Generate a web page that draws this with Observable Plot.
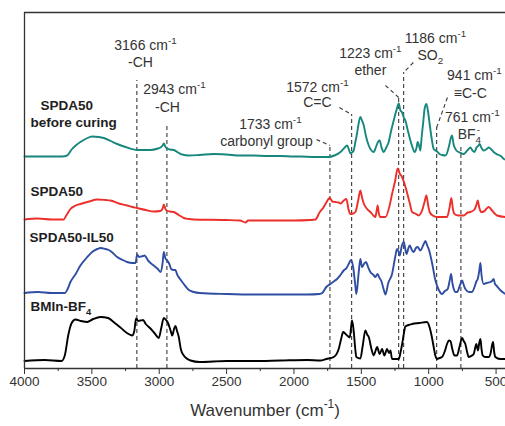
<!DOCTYPE html>
<html><head><meta charset="utf-8">
<script src="https://cdn.jsdelivr.net/npm/d3@7"></script>
<script src="https://cdn.jsdelivr.net/npm/@observablehq/plot@0.6"></script>
<style>
html,body{margin:0;padding:0;background:#fff;overflow:hidden;}
#chart svg{display:block;overflow:hidden;}
</style></head><body><div id="chart"></div>
<script>
// ---- axis ----
const xTicks = [4000, 3500, 3000, 2500, 2000, 1500, 1000, 500];
const xMinorTicks = [3750, 3250, 2750, 2250, 1750, 1250, 750];
const xLabel = "Wavenumber (cm^{-1})";

// ---- series (stacked spectra, arbitrary absorbance units) ----
const seriesNames = ["SPDA50 before curing", "SPDA50", "SPDA50-IL50", "BMIn-BF4"];
const seriesColors = ["#17877d", "#ec2f2a", "#2f4ea3", "#000000"];
const seriesOffsets = [212, 149, 75.5, 7.5];

const tealSpectrum = [[4000,0],[3850,0],[3720,0],[3683,1],[3650,7],[3620,11],[3585,14.5],[3540,18],[3498,20],[3450,19.5],[3412,18.5],[3360,15.5],[3312,12.5],[3250,9.5],[3164,6.5],[3100,6.5],[3065,6.5],[3010,8],[2991,9],[2975,11],[2966,13],[2955,10],[2946,8.5],[2920,7],[2892,6.5],[2860,4],[2830,2],[2780,1],[2700,1.5],[2597,2.5],[2500,2],[2400,1],[2300,1],[2200,0.5],[2100,0.5],[2000,0],[1952,0],[1850,-0.5],[1744,-0.5],[1700,1],[1655,4.5],[1630,8],[1605,11],[1590,6],[1581,3],[1570,4],[1557,6],[1545,14],[1532,23],[1520,33],[1507,39.5],[1495,36],[1482,31],[1465,20],[1445,11],[1425,6],[1408,4.5],[1390,10],[1375,15],[1364,16],[1350,9],[1334,4.5],[1315,9],[1297,14.5],[1280,25],[1260,36],[1240,46],[1222,53],[1210,46],[1197,44],[1185,39],[1173,36],[1155,26],[1136,16],[1120,9],[1104,4.5],[1090,9],[1082,14.5],[1070,10],[1062,6],[1052,20],[1042,32.5],[1030,48],[1017,52.5],[1005,45],[993,32.5],[978,18],[963,7.5],[950,6],[938,5],[920,2.5],[900,1.5],[876,1],[860,5],[845,13],[835,19],[827,21],[815,12],[795,6],[770,4],[740,2.5],[720,5],[700,8],[691,9],[675,6],[661,4.5],[645,9],[630,11],[621,12.5],[610,9],[592,6],[570,7.5],[554,9],[535,7],[518,4.5],[490,2],[460,0],[443,-2.5],[430,-3]];

const redSpectrum = [[4000,0],[3900,1],[3800,0],[3710,0],[3690,4],[3659,10.5],[3620,14],[3585,15.5],[3520,18],[3461,20],[3400,19.5],[3362,19],[3300,16],[3238,14],[3200,12.5],[3164,11.5],[3100,9.5],[3041,8],[2991,8.5],[2975,11],[2966,15],[2955,11],[2946,9],[2920,8],[2892,7.5],[2850,4],[2818,1.5],[2780,0.5],[2744,0],[2500,-0.5],[2400,-1],[2360,-3],[2340,-1],[2200,-1],[2000,-1],[1880,-0.5],[1841,0],[1810,7],[1779,12.5],[1760,17],[1735,21.5],[1715,18],[1693,17.5],[1670,17],[1655,16],[1630,19],[1611,20.5],[1595,10],[1581,5.5],[1560,6],[1544,7.5],[1525,18],[1507,29],[1495,22],[1482,16],[1460,11],[1433,7.5],[1410,4],[1396,2.5],[1385,10],[1379,14],[1370,6],[1358,2.5],[1321,2.5],[1290,14],[1272,25.5],[1250,38],[1230,51],[1215,46],[1198,42.5],[1180,36],[1165,29],[1140,16],[1123,7.5],[1100,6],[1074,4],[1060,6],[1049,9],[1030,18],[1017,24],[1005,15],[993,7.5],[970,4],[938,2.5],[900,2.5],[864,2.5],[845,12],[832,21.5],[820,10],[809,5.5],[780,4],[740,4],[710,7],[691,7.5],[660,10],[645,15],[636,19],[625,12],[611,7.5],[590,8],[570,11],[554,12.5],[530,9],[510,6],[493,4],[431,2.5]];

const blueSpectrum = [[4000,0],[3900,1],[3800,0],[3700,0],[3680,4],[3659,11],[3620,19],[3585,27.5],[3540,35],[3498,41],[3460,44],[3436,45],[3400,44],[3374,43],[3340,39.5],[3312,36],[3270,33],[3238,31],[3200,30],[3176,30],[3164,38.5],[3150,36],[3134,36.5],[3120,37],[3110,37.5],[3080,32],[3041,27.5],[3010,24],[2991,21],[2975,30],[2966,41],[2955,35],[2941,32.5],[2925,29],[2911,24],[2895,23],[2880,23],[2867,18.5],[2840,13],[2818,9],[2780,3],[2744,1],[2700,0],[2500,-1],[2300,-1.5],[2100,-1.5],[1900,-1.5],[1810,-1],[1790,0],[1760,6],[1730,9],[1700,12],[1680,14],[1655,18],[1631,22.5],[1610,25],[1594,29],[1576,33],[1561,26],[1545,8],[1537,-1],[1520,20],[1507,34],[1495,26],[1480,29],[1465,31],[1450,26],[1433,21],[1410,18],[1396,16],[1379,19],[1365,15],[1353,12.5],[1335,4],[1321,-1.5],[1300,10],[1272,19],[1250,35],[1235,44],[1225,42],[1215,37.5],[1200,47],[1185,51],[1175,45],[1165,39],[1150,45],[1141,47.5],[1125,43],[1111,41],[1095,45],[1082,46],[1062,42.5],[1040,48],[1024,52],[1010,47],[1000,44],[975,30],[950,12.5],[925,3],[901,-1],[880,2],[859,4],[845,12],[834,19],[824,10],[814,4],[800,1],[789,1],[770,7],[752,12.5],[740,8],[728,4],[700,1],[678,1],[660,6],[645,12],[636,14],[625,22],[616,30],[608,18],[592,9],[570,10],[542,11],[530,12],[518,14],[508,9],[498,7.5],[470,3],[431,-1]];

const blackSpectrum = [[4000,0],[3850,1],[3725,0],[3700,6],[3675,26],[3650,38],[3622,41.5],[3580,40],[3535,39],[3490,42],[3436,44],[3380,43],[3330,38],[3288,33.5],[3240,28],[3201,25.5],[3185,30],[3172,42.5],[3155,40],[3139,40.5],[3120,41],[3100,37],[3065,32.5],[3030,27],[3003,23],[2985,33],[2966,43],[2950,41],[2935,38],[2915,30],[2904,25.5],[2890,32],[2880,35],[2868,30],[2855,24],[2840,12],[2818,5.5],[2790,2],[2768,0.5],[2700,-1],[2500,0],[2300,0],[2100,0.5],[1900,1],[1804,0.5],[1760,2],[1705,4],[1668,12],[1650,22],[1635,29],[1620,27.5],[1605,25.5],[1586,23.5],[1575,35],[1569,40.5],[1557,30.5],[1545,12],[1537,4],[1507,2.5],[1490,15],[1470,30.5],[1455,26],[1445,24],[1425,12],[1408,5.5],[1395,10],[1383,14],[1364,7],[1346,12],[1329,5.5],[1309,12],[1295,8],[1284,10.5],[1272,2],[1222,2],[1210,8],[1197,17],[1185,27],[1173,34.5],[1150,36],[1123,37],[1070,38],[1012,39],[993,33.5],[978,25],[963,14],[950,5],[938,2],[920,3],[901,4],[880,10],[864,17],[850,20.5],[839,20],[825,12],[809,5.5],[790,5.5],[770,15],[752,23],[740,20],[728,17],[715,9],[703,4],[685,5],[666,7],[652,15],[646,17],[640,13],[634,10.5],[625,18],[616,22],[608,12],[599,5.5],[580,4],[554,4],[540,8],[528,17],[522,19],[515,10],[505,4],[470,2],[430,2]];

const spectra = [tealSpectrum, redSpectrum, blueSpectrum, blackSpectrum];

// ---- sample labels ----
const sampleLabelText = ["SPDA50", "before curing", "SPDA50", "SPDA50-IL50", "BMIn-BF_{4}"];
const sampleLabelW = [3881, 3955, 3955, 3962, 3955];
const sampleLabelV = [263, 246, 177, 131, 62];

// ---- band markers ----
const markerW = [3166, 2943, 1733, 1572, 1223, 1186, 941, 761];
const markerTop = [288, 245, 223, 254, 271, 296, 241, 222];

// ---- band annotation texts ----
const annText = ["3166 cm^{-1}", "-CH", "2943 cm^{-1}", "-CH", "1733 cm^{-1}", "carbonyl group",
  "1572 cm^{-1}", "C=C", "1223 cm^{-1}", "ether", "1186 cm^{-1}", "SO_{2}",
  "941 cm^{-1}", "\u2261C-C", "761 cm^{-1}", "BF_{4}^{-}"];
const annW = [3102, 3139, 2887, 2939, 2175, 2204, 1826, 1826, 1433, 1433, 950, 988, 661, 691, 676, 698];
const annV = [323, 306, 279, 261, 244, 227, 281, 266, 315, 298, 330, 313, 293, 275, 251, 234];

// ---- leader lines (label -> marker) ----
const leaderFromW = [1833, 1663, 1321, 1114, 861];
const leaderFromV = [229, 261, 283, 306, 271];
const leaderToW = [1733, 1572, 1223, 1186, 941];
const leaderToV = [223, 254, 271, 296, 241];

// ---- build tables ----
const lineData = seriesNames.flatMap((name, i) =>
  spectra[i].map(([w, a]) => ({series: name, w, v: seriesOffsets[i] + a})));
const sampleLabels = sampleLabelText.map((t, i) => ({t, w: sampleLabelW[i], v: sampleLabelV[i]}));
const markers = markerW.map((w, i) => ({w, top: markerTop[i]}));
const anns = annText.map((t, i) => ({t, w: annW[i], v: annV[i]}));
const leaders = leaderFromW.map((w, i) => ({x1: w, y1: leaderFromV[i], x2: leaderToW[i], y2: leaderToV[i]}));

const FONT = "'Liberation Sans', Arial, Helvetica, sans-serif";

const plot = Plot.plot({
  width: 505,
  height: 426,
  marginLeft: 24,
  marginRight: 0,
  marginTop: 12,
  marginBottom: 58,
  style: {fontFamily: FONT, background: "#fff", color: "#333"},
  x: {domain: [4000, 430], axis: null},
  y: {domain: [0, 356], axis: null},
  marks: [
    Plot.ruleX(markers, {x: "w", y1: 0, y2: "top", stroke: "#3a3a3a", strokeWidth: 1.1, strokeDasharray: "4,3"}),
    Plot.link(leaders, {x1: "x1", y1: "y1", x2: "x2", y2: "y2", stroke: "#3a3a3a", strokeWidth: 1.1, strokeDasharray: "4,3"}),
    ...seriesNames.map((name, i) =>
      Plot.line(lineData.filter(d => d.series === name), {x: "w", y: "v", stroke: seriesColors[i], strokeWidth: 1.9, curve: "monotone-x"})),
    Plot.ruleY([356], {stroke: "#333", strokeWidth: 1.3}),
    Plot.ruleX([4000], {stroke: "#333", strokeWidth: 1.3}),
    Plot.ruleY([0], {stroke: "#333", strokeWidth: 1.3}),
    Plot.axisX({ticks: xTicks, tickSize: 6, tickPadding: 2, fontSize: 13.5, label: null, tickFormat: d => String(d), stroke: "#333", fill: "#333"}),
    Plot.axisX({ticks: xMinorTicks, tickSize: 3, label: null, tickFormat: () => "", stroke: "#333"}),
    Plot.text(sampleLabels, {x: "w", y: "v", text: "t", textAnchor: "start", fontWeight: "bold", fontSize: 13.5, fill: "#1e1e1e"}),
    Plot.text(anns, {x: "w", y: "v", text: "t", textAnchor: "middle", fontSize: 14, fill: "#333"}),
    Plot.text([xLabel], {frameAnchor: "bottom", text: d => d, dy: 47, fontSize: 17, fill: "#333"})
  ]
});

function richify(root) {
  const NS = "http://www.w3.org/2000/svg";
  root.querySelectorAll("text").forEach(t => {
    const targets = t.querySelector("tspan") ? Array.from(t.querySelectorAll("tspan")) : [t];
    targets.forEach(el => {
      const s = el.textContent;
      if (!/[\^_]\{/.test(s)) return;
      const fs = parseFloat(getComputedStyle(t).fontSize) || 13.5;
      const parts = s.split(/([\^_]\{[^}]*\})/).filter(p => p);
      el.textContent = "";
      let shift = 0, prevSubLen = 0;
      parts.forEach(p => {
        const ts = document.createElementNS(NS, "tspan");
        let target = 0, txt = p, small = false, dx = 0;
        if (p.startsWith("^{")) {
          target = -fs * 0.42; txt = p.slice(2, -1); small = true;
          if (prevSubLen) dx = -prevSubLen * fs * 0.7 * 0.45;
        } else if (p.startsWith("_{")) {
          target = fs * 0.3; txt = p.slice(2, -1); small = true;
        }
        ts.setAttribute("dy", (target - shift).toFixed(2));
        if (dx) ts.setAttribute("dx", dx.toFixed(2));
        if (small) ts.setAttribute("font-size", (fs * 0.7).toFixed(2));
        prevSubLen = p.startsWith("_{") ? txt.length : 0;
        shift = target;
        ts.textContent = txt;
        el.appendChild(ts);
      });
    });
  });
}

document.getElementById("chart").appendChild(plot);
richify(plot);
</script>
</body></html>
